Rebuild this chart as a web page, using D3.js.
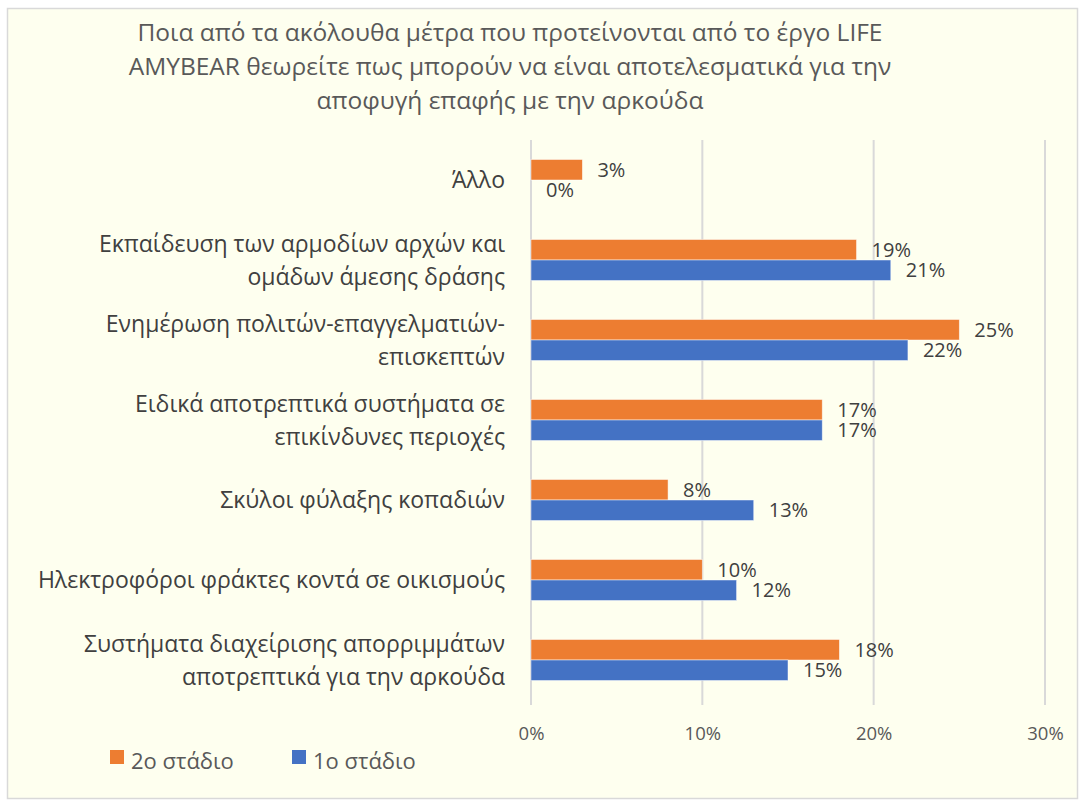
<!DOCTYPE html>
<html>
<head>
<meta charset="utf-8">
<script src="https://cdn.jsdelivr.net/npm/d3@7"></script>
<style>
  body { margin: 0; background: #fff; }
  svg text { font-family: "Open Sans", "Noto Sans", sans-serif; }
</style>
</head>
<body>
<div id="chart"></div>
<script>
const titleLines = [
  'Ποια από τα ακόλουθα μέτρα που προτείνονται από το έργο LIFE',
  'AMYBEAR θεωρείτε πως μπορούν να είναι αποτελεσματικά για την',
  'αποφυγή επαφής με την αρκούδα'
];
const categories = [
  ['Άλλο'],
  ['Εκπαίδευση των αρμοδίων αρχών και', 'ομάδων άμεσης δράσης'],
  ['Ενημέρωση πολιτών-επαγγελματιών-', 'επισκεπτών'],
  ['Ειδικά αποτρεπτικά συστήματα σε', 'επικίνδυνες περιοχές'],
  ['Σκύλοι φύλαξης κοπαδιών'],
  ['Ηλεκτροφόροι φράκτες κοντά σε οικισμούς'],
  ['Συστήματα διαχείρισης απορριμμάτων', 'αποτρεπτικά για την αρκούδα']
];
const seriesNames = ['2ο στάδιο', '1ο στάδιο'];
const stage2 = [0.03, 0.19, 0.25, 0.17, 0.08, 0.10, 0.18];
const stage1 = [0.00, 0.21, 0.22, 0.17, 0.13, 0.12, 0.15];
const xTicks = [0, 0.1, 0.2, 0.3];
const colors = ['#ED7D31', '#4472C4'];

const width = 1080, height = 805;
const plot = { left: 531, right: 1045, top: 140, bottom: 700 };

const svg = d3.select('#chart').append('svg')
  .attr('width', width)
  .attr('height', height);

svg.append('rect')
  .attr('x', 7.5).attr('y', 8.5)
  .attr('width', 1070).attr('height', 790)
  .attr('fill', '#FEFFEF')
  .attr('stroke', '#d9d9d9')
  .attr('stroke-width', 1.5);

svg.append('g')
  .attr('font-size', 24.5)
  .attr('fill', '#595959')
  .attr('text-anchor', 'middle')
  .selectAll('text')
  .data(titleLines)
  .join('text')
  .attr('x', 510)
  .attr('y', (d, i) => 41 + i * 34)
  .text(d => d);

const keys = categories.map((d, i) => i);

const x = d3.scaleLinear()
  .domain([0, 0.3])
  .range([plot.left, plot.right]);

const y = d3.scaleBand()
  .domain(keys)
  .range([plot.top, plot.bottom])
  .padding(0);

const ySub = d3.scaleBand()
  .domain(seriesNames)
  .range([0, y.bandwidth()])
  .paddingInner(0)
  .paddingOuter(0.95);

// gridlines
svg.append('g')
  .selectAll('line')
  .data(xTicks)
  .join('line')
  .attr('x1', d => x(d)).attr('x2', d => x(d))
  .attr('y1', plot.top).attr('y2', plot.bottom + 5)
  .attr('stroke', '#d9d9d9')
  .attr('stroke-width', 2);

// x axis labels
const xAxis = d3.axisBottom(x)
  .tickValues(xTicks)
  .tickFormat(d3.format('.0%'))
  .tickSize(0)
  .tickPadding(0);

const axisG = svg.append('g')
  .attr('transform', `translate(0,${plot.bottom + 27})`)
  .call(xAxis);
axisG.select('.domain').remove();
axisG.selectAll('text')
  .attr('font-size', 18.5)
  .attr('fill', '#595959')
  .attr('font-family', '"Open Sans", sans-serif');

// category labels
const catG = svg.append('g')
  .attr('font-size', 23)
  .attr('fill', '#404040')
  .attr('text-anchor', 'end');

catG.selectAll('text')
  .data(categories)
  .join('text')
  .attr('transform', (d, i) => `translate(505,${y(i) + y.bandwidth() / 2})`)
  .selectAll('tspan')
  .data(d => d.map((line, j) => ({ line, j, n: d.length })))
  .join('tspan')
  .attr('x', 0)
  .attr('y', d => (d.j - (d.n - 1) / 2) * 33)
  .attr('dy', '0.35em')
  .text(d => d.line);

// bars
const rows = [];
keys.forEach(i => {
  rows.push({ cat: i, s: seriesNames[0], v: stage2[i], c: colors[0] });
  rows.push({ cat: i, s: seriesNames[1], v: stage1[i], c: colors[1] });
});

svg.append('g')
  .selectAll('rect')
  .data(rows)
  .join('rect')
  .attr('x', x(0))
  .attr('y', d => y(d.cat) + ySub(d.s))
  .attr('width', d => x(d.v) - x(0))
  .attr('height', ySub.bandwidth())
  .attr('fill', d => d.c)
  .attr('stroke', '#ffffff')
  .attr('stroke-opacity', 0.6)
  .attr('stroke-width', 0.8);

svg.append('g')
  .attr('font-size', 20)
  .attr('fill', '#404040')
  .selectAll('text')
  .data(rows)
  .join('text')
  .attr('x', d => x(d.v) + 15)
  .attr('y', d => y(d.cat) + ySub(d.s) + ySub.bandwidth() / 2)
  .attr('dy', '0.35em')
  .text(d => d3.format('.0%')(d.v));

// legend
const legend = svg.append('g')
  .attr('font-size', 22)
  .attr('fill', '#595959')
  .selectAll('g')
  .data(seriesNames)
  .join('g')
  .attr('transform', (d, i) => `translate(${110 + i * 182},762)`);

legend.append('rect')
  .attr('x', 0).attr('y', -12)
  .attr('width', 14).attr('height', 14)
  .attr('fill', (d, i) => colors[i]);

legend.append('text')
  .attr('x', 21)
  .attr('y', 0)
  .attr('dy', '0.3em')
  .text(d => d);
</script>
</body>
</html>
